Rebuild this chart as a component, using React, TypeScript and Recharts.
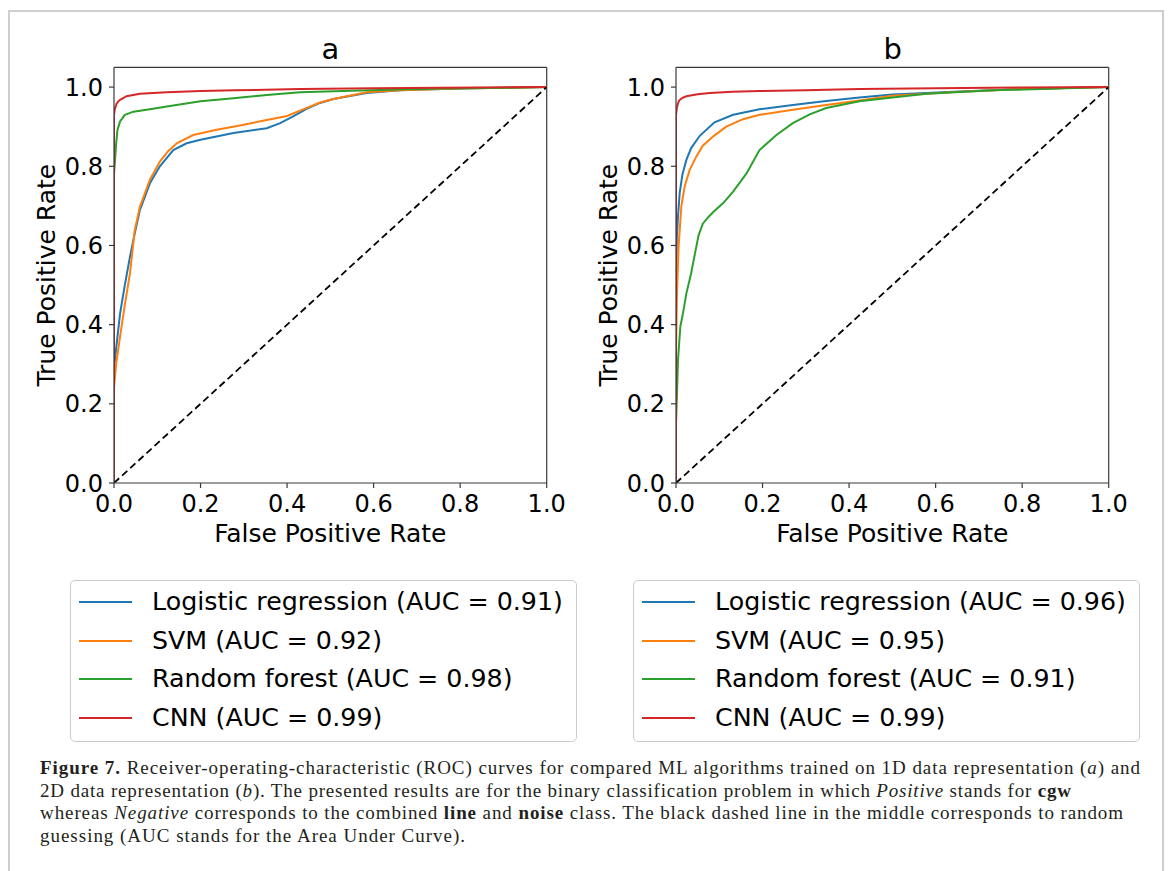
import React from 'react';
import { LineChart, Line, XAxis, YAxis, ReferenceLine } from 'recharts';

// ---------- data ----------
const ticks = [0, 0.2, 0.4, 0.6, 0.8, 1.0];
const seriesNames = ['Logistic regression', 'SVM', 'Random forest', 'CNN'];
const seriesColors = ['#1f77b4', '#ff7f0e', '#2ca02c', '#d62728'];
const aucA = ['0.91', '0.92', '0.98', '0.99'];
const aucB = ['0.96', '0.95', '0.91', '0.99'];
const panelTitles = ['a', 'b'];

const chanceX = [0, 1];
const chanceY = [0, 1];

// panel a
const aLrX = [0, 0, 0.005, 0.014, 0.025, 0.037, 0.048, 0.06, 0.083, 0.106, 0.137, 0.168, 0.2, 0.276, 0.353, 0.384, 0.414, 0.445, 0.476, 0.507, 0.584, 0.661, 0.815, 1.0];
const aLrY = [0, 0.29, 0.34, 0.428, 0.5, 0.572, 0.631, 0.69, 0.757, 0.8, 0.841, 0.858, 0.867, 0.884, 0.896, 0.909, 0.926, 0.945, 0.96, 0.97, 0.985, 0.992, 0.997, 1.0];
const aSvmX = [0, 0, 0.005, 0.014, 0.025, 0.037, 0.048, 0.06, 0.083, 0.106, 0.125, 0.145, 0.183, 0.237, 0.291, 0.353, 0.4, 0.44, 0.476, 0.507, 0.584, 0.661, 0.815, 1.0];
const aSvmY = [0, 0.24, 0.3, 0.37, 0.45, 0.53, 0.639, 0.698, 0.766, 0.812, 0.838, 0.858, 0.879, 0.892, 0.903, 0.917, 0.927, 0.945, 0.961, 0.97, 0.987, 0.992, 0.997, 1.0];
const aRfX = [0, 0, 0.002, 0.005, 0.008, 0.014, 0.025, 0.045, 0.083, 0.122, 0.2, 0.276, 0.353, 0.43, 0.55, 0.7, 1.0];
const aRfY = [0, 0.78, 0.81, 0.858, 0.892, 0.913, 0.93, 0.938, 0.944, 0.951, 0.964, 0.972, 0.98, 0.987, 0.991, 0.995, 1.0];
const aCnnX = [0, 0, 0.002, 0.006, 0.01, 0.014, 0.029, 0.06, 0.122, 0.2, 0.28, 0.43, 0.6, 1.0];
const aCnnY = [0, 0.93, 0.945, 0.958, 0.964, 0.968, 0.977, 0.983, 0.987, 0.99, 0.992, 0.995, 0.997, 1.0];

// panel b
const bLrX = [0, 0, 0.002, 0.0046, 0.0085, 0.0146, 0.024, 0.035, 0.055, 0.089, 0.132, 0.193, 0.27, 0.347, 0.424, 0.5, 0.656, 0.8, 1.0];
const bLrY = [0, 0.5, 0.62, 0.673, 0.732, 0.778, 0.816, 0.846, 0.877, 0.911, 0.93, 0.944, 0.955, 0.965, 0.974, 0.981, 0.989, 0.995, 1.0];
const bSvmX = [0, 0, 0.0023, 0.006, 0.0123, 0.02, 0.0316, 0.047, 0.062, 0.0855, 0.116, 0.155, 0.193, 0.27, 0.347, 0.424, 0.5, 0.656, 0.8, 1.0];
const bSvmY = [0, 0.33, 0.479, 0.597, 0.698, 0.749, 0.791, 0.825, 0.852, 0.875, 0.9, 0.919, 0.93, 0.943, 0.955, 0.966, 0.978, 0.988, 0.995, 1.0];
const bRfX = [0, 0, 0.0023, 0.0046, 0.01, 0.016, 0.024, 0.035, 0.043, 0.052, 0.062, 0.075, 0.0855, 0.109, 0.132, 0.163, 0.193, 0.232, 0.27, 0.309, 0.347, 0.424, 0.5, 0.579, 0.733, 1.0];
const bRfY = [0, 0.15, 0.226, 0.31, 0.395, 0.428, 0.479, 0.53, 0.575, 0.625, 0.655, 0.672, 0.684, 0.707, 0.736, 0.782, 0.841, 0.879, 0.909, 0.931, 0.947, 0.964, 0.974, 0.983, 0.992, 1.0];
const bCnnX = [0, 0, 0.002, 0.005, 0.008, 0.015, 0.024, 0.05, 0.078, 0.13, 0.193, 0.3, 0.424, 0.6, 0.8, 1.0];
const bCnnY = [0, 0.93, 0.948, 0.96, 0.967, 0.973, 0.977, 0.982, 0.985, 0.988, 0.99, 0.992, 0.995, 0.997, 0.999, 1.0];

const zip = (xs: number[], ys: number[]) => xs.map((x, i) => ({ x, y: ys[i] }));

const panelA = [zip(aLrX, aLrY), zip(aSvmX, aSvmY), zip(aRfX, aRfY), zip(aCnnX, aCnnY)];
const panelB = [zip(bLrX, bLrY), zip(bSvmX, bSvmY), zip(bRfX, bRfY), zip(bCnnX, bCnnY)];
const chance = zip(chanceX, chanceY);

const FONT = '"DejaVu Sans", sans-serif';
const SPINE = '#3a3a3a';

const XLabel = (props: any) => {
  const vb = props.viewBox || { x: 114, y: 483, width: 432.7, height: 77 };
  return (
    <text x={vb.x + vb.width / 2} y={vb.y + 58.5} textAnchor="middle" fontSize={25} fontFamily={FONT} fill="#000">
      False Positive Rate
    </text>
  );
};

const YLabel = (props: any) => {
  const vb = props.viewBox || { x: 0, y: 67.3, width: 114, height: 415.7 };
  const x = vb.x + vb.width - 59;
  const y = vb.y + vb.height / 2;
  return (
    <text x={x} y={y} transform={`rotate(-90, ${x}, ${y})`} textAnchor="middle" fontSize={25} fontFamily={FONT} fill="#000">
      True Positive Rate
    </text>
  );
};

function Panel({ series, left }: { series: { x: number; y: number }[][]; left: number }) {
  return (
    <div style={{ position: 'absolute', left, top: 0 }}>
      <LineChart width={580} height={560} margin={{ top: 67.3, right: 33.3, left: 0, bottom: 0 }}>
        <XAxis
          type="number"
          dataKey="x"
          domain={[0, 1]}
          ticks={ticks}
          tickFormatter={(v: number) => v.toFixed(1)}
          height={77}
          tick={{ fill: '#000', fontSize: 24, fontFamily: FONT }}
          tickLine={{ stroke: SPINE, strokeWidth: 1.2 }}
          axisLine={{ stroke: SPINE, strokeWidth: 1.2 }}
          tickSize={5}
          tickMargin={7}
          allowDataOverflow
          label={{ content: XLabel }}
        />
        <YAxis
          type="number"
          dataKey="y"
          domain={[0, 1.05]}
          ticks={ticks}
          tickFormatter={(v: number) => v.toFixed(1)}
          width={114}
          tick={{ fill: '#000', fontSize: 24, fontFamily: FONT }}
          tickLine={{ stroke: SPINE, strokeWidth: 1.2 }}
          axisLine={{ stroke: SPINE, strokeWidth: 1.2 }}
          tickSize={5}
          tickMargin={6}
          allowDataOverflow
          label={{ content: YLabel }}
        />
        <ReferenceLine y={1.05} stroke={SPINE} strokeWidth={1.2} />
        <ReferenceLine x={1} stroke={SPINE} strokeWidth={1.2} />
        {series.map((d, i) => (
          <Line
            key={i}
            data={d}
            dataKey="y"
            type="linear"
            stroke={seriesColors[i]}
            strokeWidth={2}
            dot={false}
            activeDot={false}
            isAnimationActive={false}
          />
        ))}
        <Line
          data={chance}
          dataKey="y"
          type="linear"
          stroke="#000"
          strokeWidth={1.8}
          strokeDasharray="7 4"
          dot={false}
          activeDot={false}
          isAnimationActive={false}
        />
      </LineChart>
    </div>
  );
}

function LegendBox({ left, width, aucs }: { left: number; width: number; aucs: string[] }) {
  const rowYs = [21, 60, 98, 137];
  return (
    <div
      style={{
        position: 'absolute',
        left,
        top: 580,
        width,
        height: 162,
        boxSizing: 'border-box',
        border: '1.5px solid #cccccc',
        borderRadius: 5,
        background: '#fff',
      }}
    >
      {seriesNames.map((n, i) => (
        <div
          key={n}
          style={{
            position: 'absolute',
            left: 0,
            top: rowYs[i] - 19,
            height: 38,
            lineHeight: '38px',
            width: '100%',
            fontFamily: FONT,
            fontSize: 25.3,
            color: '#000',
            whiteSpace: 'nowrap',
          }}
        >
          <span
            style={{
              position: 'absolute',
              left: 8,
              top: 18,
              width: 53,
              height: 2,
              background: seriesColors[i],
            }}
          />
          <span style={{ position: 'absolute', left: 81 }}>{`${n} (AUC = ${aucs[i]})`}</span>
        </div>
      ))}
    </div>
  );
}

const SERIF = '"Liberation Serif", "Times New Roman", serif';

export default function App() {
  return (
    <div style={{ position: 'absolute', left: 0, top: 0, width: 1168, height: 871, background: '#fff', overflow: 'hidden' }}>
      <div
        style={{
          position: 'absolute',
          left: 8,
          top: 10,
          width: 1156,
          height: 900,
          boxSizing: 'border-box',
          borderTop: '2px solid #cfcfcf',
          borderLeft: '2px solid #cfcfcf',
          borderRight: '2px solid #cfcfcf',
        }}
      />
      <Panel series={panelA} left={0} />
      <Panel series={panelB} left={562.3} />
      <svg style={{ position: 'absolute', left: 0, top: 0 }} width={1168} height={871} pointerEvents="none">
        <text x={330.3} y={59} textAnchor="middle" fontSize={29} fontFamily={FONT} fill="#000">{panelTitles[0]}</text>
        <text x={892.6} y={59} textAnchor="middle" fontSize={29} fontFamily={FONT} fill="#000">{panelTitles[1]}</text>
        <g fontFamily={SERIF} fontSize={19} fill="#231f20">
          <text x={40} y={774} textLength={1100} lengthAdjust="spacing">
            <tspan fontWeight="bold">Figure 7.</tspan> Receiver-operating-characteristic (ROC) curves for compared ML algorithms trained on 1D data representation (<tspan fontStyle="italic">a</tspan>) and
          </text>
          <text x={40} y={796.7} textLength={1031} lengthAdjust="spacing">
            2D data representation (<tspan fontStyle="italic">b</tspan>). The presented results are for the binary classification problem in which <tspan fontStyle="italic">Positive</tspan> stands for <tspan fontWeight="bold">cgw</tspan>
          </text>
          <text x={40} y={819.3} textLength={1083} lengthAdjust="spacing">
            whereas <tspan fontStyle="italic">Negative</tspan> corresponds to the combined <tspan fontWeight="bold">line</tspan> and <tspan fontWeight="bold">noise</tspan> class. The black dashed line in the middle corresponds to random
          </text>
          <text x={40} y={842} textLength={425} lengthAdjust="spacing">
            guessing (AUC stands for the Area Under Curve).
          </text>
        </g>
      </svg>
      <LegendBox left={70} width={507} aucs={aucA} />
      <LegendBox left={633} width={507} aucs={aucB} />
    </div>
  );
}
